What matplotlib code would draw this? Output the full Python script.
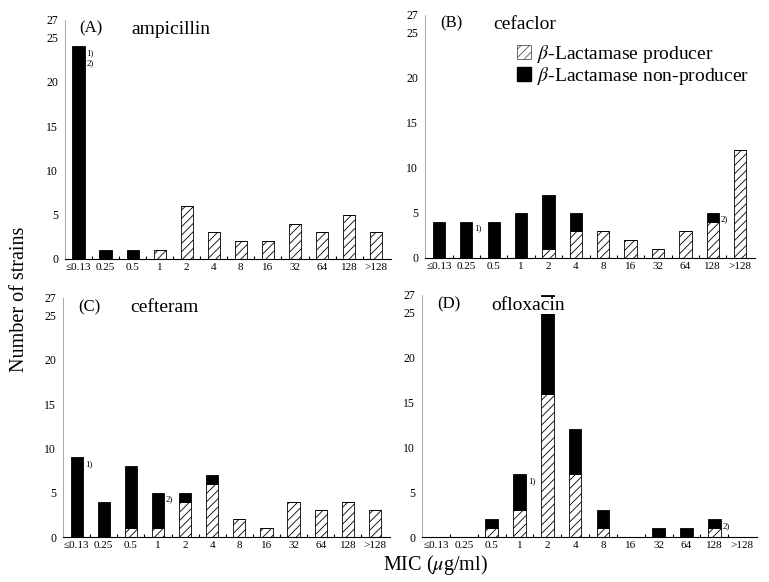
import matplotlib.pyplot as plt
import numpy as np
from matplotlib.patches import Patch

plt.rcParams['font.family'] = ['Liberation Serif', 'DejaVu Serif']
plt.rcParams['mathtext.fontset'] = 'stix'
plt.rcParams['hatch.linewidth'] = 0.6
plt.rcParams['hatch.color'] = '#333333'

mic = ['≤0.13', '0.25', '0.5', '1', '2', '4', '8', '16', '32', '64', '128', '>128']

# beta-lactamase producer (hatched) / non-producer (black), strains per MIC
amp_prod = [0, 0, 0, 1, 6, 3, 2, 2, 4, 3, 5, 3]
amp_non = [24, 1, 1, 0, 0, 0, 0, 0, 0, 0, 0, 0]
cfc_prod = [0, 0, 0, 0, 1, 3, 3, 2, 1, 3, 4, 12]
cfc_non = [4, 4, 4, 5, 6, 2, 0, 0, 0, 0, 1, 0]
cft_prod = [0, 0, 1, 1, 4, 6, 2, 1, 4, 3, 4, 3]
cft_non = [9, 4, 7, 4, 1, 1, 0, 0, 0, 0, 0, 0]
ofx_prod = [0, 0, 1, 3, 16, 7, 1, 0, 0, 0, 1, 0]
ofx_non = [0, 0, 1, 4, 11, 5, 2, 0, 1, 1, 1, 0]

panels = [
    ('(A)', 'ampicillin', amp_prod, amp_non, [(0, '1)\n2)')]),
    ('(B)', 'cefaclor', cfc_prod, cfc_non, [(1, '1)'), (10, '2)')]),
    ('(C)', 'cefteram', cft_prod, cft_non, [(0, '1)'), (3, '2)')]),
    ('(D)', 'ofloxacin', ofx_prod, ofx_non, [(3, '1)'), (10, '2)')]),
]

boxes = [
    [0.0845, 0.555, 0.424, 0.411],
    [0.553, 0.557, 0.429, 0.418],
    [0.082, 0.0773, 0.425, 0.411],
    [0.549, 0.0773, 0.436, 0.416],
]

fig = plt.figure(figsize=(7.69, 5.82), dpi=100)
x = np.arange(len(mic))

for (tag, drug, prod, non, notes), box in zip(panels, boxes):
    ax = fig.add_axes(box)
    prod = np.array(prod)
    non = np.array(non)
    ax.bar(x, prod, width=0.45, color='white', edgecolor='black',
           hatch='////', linewidth=0.6, zorder=2)
    ax.bar(x, non, width=0.45, bottom=prod, color='black',
           edgecolor='black', linewidth=0.6, zorder=2)
    ax.set_xlim(-0.5, len(mic) - 0.45)
    ax.set_ylim(0, 27)
    ax.set_yticks([0, 5, 10, 15, 20, 25, 27])
    ax.set_xticks(x)
    ax.set_xticklabels(mic)
    ax.set_xticks(x[:-1] + 0.5, minor=True)
    ax.tick_params(axis='x', which='major', length=0, pad=3, labelsize=8)
    ax.tick_params(axis='x', which='minor', length=2, width=0.8, direction='in')
    ax.tick_params(axis='y', length=0, pad=5, labelsize=8.5)
    for s in ['top', 'right']:
        ax.spines[s].set_visible(False)
    ax.spines['left'].set_color('#999999')
    ax.spines['left'].set_linewidth(0.6)
    ax.spines['bottom'].set_linewidth(0.8)
    ax.text(0.045, 0.962, tag, transform=ax.transAxes, fontsize=12,
            va='center', ha='left')
    ax.text(0.205, 0.958, drug, transform=ax.transAxes, fontsize=14,
            va='center', ha='left', zorder=3,
            bbox=dict(facecolor='white', edgecolor='none', pad=0))
    for i, lab in notes:
        ax.text(x[i] + 0.3, prod[i] + non[i] - 0.3, lab, fontsize=6.5,
                va='top', ha='left', linespacing=1.3)
    if tag == '(B)':
        handles = [Patch(facecolor='white', edgecolor='#555555', hatch='////',
                         linewidth=0.6),
                   Patch(facecolor='black', edgecolor='black')]
        ax.legend(handles, [r'$\beta$-Lactamase producer',
                            r'$\beta$-Lactamase non-producer'],
                  loc='upper right', bbox_to_anchor=(1.01, 0.925),
                  frameon=False, fontsize=14, handlelength=0.7,
                  handleheight=0.7, handletextpad=0.3, labelspacing=0.0,
                  borderpad=0)

fig.text(0.026, 0.486, 'Number of strains', rotation=90, fontsize=14.5,
         ha='center', va='center')
fig.text(0.566, 0.029, r'MIC ($\mu$g/ml)', fontsize=14.5, ha='center',
         va='center')

fig.savefig('out.png', dpi=100)
